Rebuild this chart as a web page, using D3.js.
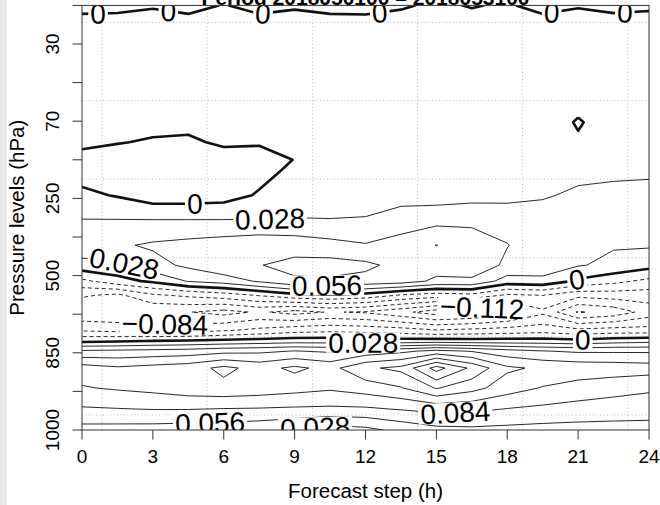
<!DOCTYPE html>
<html>
<head>
<meta charset="utf-8">
<script src="https://cdn.jsdelivr.net/npm/d3@7"></script>
<style>
  html, body { margin: 0; padding: 0; background: #ffffff; }
  svg { display: block; font-family: "Liberation Sans", Arial, Helvetica, sans-serif; }
</style>
</head>
<body>
<svg id="chart" width="660" height="505"></svg>
<script>
// Forecast steps (h) of the field columns
const steps = [0, 1.5, 3, 4.5, 6, 7.5, 9, 10.5, 12, 13.5, 15, 16.5, 18, 19.5, 21, 22.5, 24];

// Position of each field row on the level axis (0 = 1000 hPa, 11 = top level)
const rowLevels = [0, 0.544, 1.087, 1.605, 2.045, 2.304, 2.588, 3.054, 3.494, 3.857, 4.271,
                   4.788, 5.435, 6.082, 6.729, 7.0, 7.454, 7.972, 8.930, 9.965, 10.56, 11];

// Field values, one row per entry of rowLevels (bottom to top), one value per step
const field = [
  [0.046, 0.045, 0.044, 0.042, 0.040, 0.036, 0.027, 0.015, 0.020, 0.036, 0.048, 0.050, 0.048, 0.046, 0.045, 0.044, 0.044],
  [0.081, 0.083, 0.085, 0.085, 0.083, 0.082, 0.080, 0.079, 0.080, 0.086, 0.092, 0.090, 0.083, 0.078, 0.074, 0.072, 0.070],
  [0.110, 0.115, 0.120, 0.128, 0.132, 0.128, 0.122, 0.116, 0.125, 0.138, 0.170, 0.150, 0.125, 0.110, 0.100, 0.093, 0.088],
  [0.125, 0.116, 0.122, 0.128, 0.147, 0.130, 0.146, 0.131, 0.163, 0.175, 0.235, 0.190, 0.145, 0.135, 0.130, 0.128, 0.125],
  [0.060, 0.062, 0.065, 0.068, 0.075, 0.078, 0.085, 0.080, 0.095, 0.105, 0.120, 0.110, 0.095, 0.085, 0.080, 0.080, 0.080],
  [-0.006, -0.003, 0.001, 0.004, 0.008, 0.012, 0.016, 0.016, 0.016, 0.012, 0.014, 0.012, 0.012, 0.012, 0.008, 0.016, 0.020],
  [-0.060, -0.065, -0.070, -0.070, -0.060, -0.050, -0.040, -0.036, -0.040, -0.045, -0.055, -0.050, -0.045, -0.040, -0.050, -0.045, -0.045],
  [-0.108, -0.110, -0.110, -0.111, -0.122, -0.108, -0.122, -0.110, -0.115, -0.132, -0.155, -0.145, -0.125, -0.090, -0.143, -0.130, -0.100],
  [-0.080, -0.090, -0.060, -0.050, -0.040, -0.025, -0.008, -0.002, -0.010, -0.030, -0.040, -0.035, -0.060, -0.055, -0.075, -0.070, -0.070],
  [-0.035, -0.010, 0.005, 0.030, 0.040, 0.060, 0.080, 0.080, 0.075, 0.070, 0.050, 0.050, 0.016, 0.020, -0.005, -0.020, -0.035],
  [0.018, 0.020, 0.046, 0.062, 0.080, 0.083, 0.092, 0.095, 0.090, 0.075, 0.070, 0.076, 0.050, 0.045, 0.030, 0.022, 0.010],
  [0.047, 0.052, 0.060, 0.065, 0.070, 0.075, 0.072, 0.065, 0.058, 0.070, 0.0845, 0.070, 0.057, 0.040, 0.033, 0.030, 0.031],
  [0.029, 0.029, 0.029, 0.029, 0.029, 0.029, 0.030, 0.029, 0.030, 0.038, 0.0475, 0.050, 0.045, 0.042, 0.040, 0.042, 0.045],
  [0.006, -0.002, -0.015, -0.015, -0.012, 0.003, 0.010, 0.014, 0.016, 0.020, 0.015, 0.018, 0.020, 0.025, 0.033, 0.038, 0.042],
  [-0.012, -0.018, -0.020, -0.020, -0.018, -0.010, 0.006, 0.010, 0.010, 0.012, 0.012, 0.013, 0.014, 0.015, 0.020, 0.020, 0.020],
  [-0.006, -0.010, -0.012, -0.012, -0.008, -0.008, 0.0005, 0.009, 0.009, 0.010, 0.011, 0.011, 0.012, 0.012, 0.015, 0.014, 0.014],
  [0.004, 0.001, -0.002, -0.003, 0.003, 0.002, 0.006, 0.008, 0.008, 0.009, 0.010, 0.010, 0.010, 0.010, 0.002, 0.009, 0.009],
  [0.008, 0.008, 0.006, 0.005, 0.007, 0.007, 0.008, 0.008, 0.008, 0.009, 0.009, 0.009, 0.009, 0.009, -0.0015, 0.008, 0.008],
  [0.010, 0.011, 0.010, 0.009, 0.010, 0.011, 0.010, 0.009, 0.010, 0.011, 0.010, 0.010, 0.011, 0.010, 0.010, 0.011, 0.010],
  [0.008, 0.008, 0.009, 0.008, 0.007, 0.008, 0.008, 0.009, 0.008, 0.008, 0.007, 0.008, 0.009, 0.008, 0.008, 0.008, 0.007],
  [0.006, 0.005, 0.006, 0.006, 0.005, 0.006, 0.006, 0.005, 0.006, 0.006, 0.006, 0.005, 0.006, 0.006, 0.005, 0.006, 0.006],
  [-0.006, -0.004, -0.0015, -0.006, 0.001, -0.006, -0.002, -0.005, -0.007, -0.002, 0.003, -0.001, 0.002, -0.006, -0.001, -0.005, -0.003]
];

// Contour levels (interval 0.028)
const contourLevels = [-0.168, -0.14, -0.112, -0.084, -0.056, -0.028, 0,
                       0.028, 0.056, 0.084, 0.112, 0.14, 0.168, 0.196, 0.224];

// Pressure levels (hPa) at the level-axis ticks, bottom to top
const pressureTicks = [1000, 925, 850, 700, 500, 400, 250, 100, 70, 50, 30, 10];
const stepTicks = [0, 3, 6, 9, 12, 15, 18, 21, 24];

// Reference grid (dotted)
const gridSteps = [0.85, 5.3, 9.76, 14.2, 18.65, 23.1];
const gridLevels = [0.39, 2.43, 4.46, 6.5, 8.53, 10.56];

// Contour labels: [contour value, step, level] near which the label sits
const contourLabels = [
  [0, 0.68, 10.79], [0, 3.64, 10.79], [0, 7.66, 10.79], [0, 12.61, 10.79],
  [0, 19.89, 10.79], [0, 22.98, 10.79],
  [0, 4.78, 5.82],
  [0.028, 7.96, 5.44],
  [0.028, 1.82, 4.35],
  [0.056, 10.37, 3.75],
  [0, 20.95, 3.9],
  [-0.112, 16.93, 3.13],
  [-0.084, 3.51, 2.67],
  [0.028, 11.9, 2.28],
  [0, 21.2, 2.33],
  [0.084, 15.8, 0.47],
  [0.056, 5.42, 0.23],
  [0.028, 9.86, 0.13]
];

const title = "Period 2018050100 \u2013 2018053100";
const xTitle = "Forecast step (h)";
const yTitle = "Pressure levels (hPa)";

// ---- layout ----
const plot = { left: 82, right: 649, top: 5.4, bottom: 430 };
const x = d3.scaleLinear().domain([0, 24]).range([plot.left, plot.right]);
const y = d3.scaleLinear().domain([0, 11]).range([plot.bottom, plot.top]);

const svg = d3.select("#chart");

svg.append("rect").attr("x", 0).attr("y", 0).attr("width", 7).attr("height", 505).attr("fill", "#ebebeb");

svg.append("clipPath").attr("id", "plotClip")
  .append("rect")
  .attr("x", plot.left).attr("y", plot.top)
  .attr("width", plot.right - plot.left).attr("height", plot.bottom - plot.top);

// title (sits at the very top edge)
svg.append("text")
  .attr("x", (plot.left + plot.right) / 2).attr("y", 4.5)
  .attr("text-anchor", "middle").attr("font-weight", "bold").attr("font-size", 21)
  .attr("fill", "#000").text(title);

const inner = svg.append("g").attr("clip-path", "url(#plotClip)");

// dotted grid
const gridG = inner.append("g").attr("stroke", "#bdbdbd").attr("stroke-width", 1).attr("stroke-dasharray", "1,2.5");
gridSteps.forEach(s => {
  gridG.append("line").attr("x1", x(s)).attr("x2", x(s)).attr("y1", plot.top).attr("y2", plot.bottom);
});
gridLevels.forEach(l => {
  gridG.append("line").attr("x1", plot.left).attr("x2", plot.right).attr("y1", y(l)).attr("y2", y(l));
});

// ---- contours ----
const n = steps.length, m = rowLevels.length;
const values = field.flat();
const cx = d3.scaleLinear().domain(d3.range(n).map(i => i + 0.5)).range(steps);
const cy = d3.scaleLinear().domain(d3.range(m).map(j => j + 0.5)).range(rowLevels);
const contours = d3.contours().size([n, m]).thresholds(contourLevels)(values);

const toPx = p => [x(cx(p[0])), y(cy(p[1]))];
const lineGen = d3.line();

const ringsByValue = new Map();
const contourG = inner.append("g").attr("fill", "none");
contours.forEach(c => {
  const rings = [];
  c.coordinates.forEach(poly => poly.forEach(ring => rings.push(ring.map(toPx))));
  ringsByValue.set(c.value, rings);
  const v = c.value;
  rings.forEach(pts => {
    const path = contourG.append("path")
      .attr("d", lineGen(pts))
      .attr("stroke", "#111")
      .attr("stroke-linejoin", "round");
    if (Math.abs(v) < 1e-9) {
      path.attr("stroke-width", 2.6);
    } else if (v < 0) {
      path.attr("stroke-width", 0.9).attr("stroke-dasharray", "4,3");
    } else {
      path.attr("stroke-width", 0.9);
    }
  });
});

// ---- contour labels ----
const inside = p => p[0] >= plot.left - 0.5 && p[0] <= plot.right + 0.5 && p[1] >= plot.top - 0.5 && p[1] <= plot.bottom + 0.5;
const dist = (a, b) => Math.hypot(a[0] - b[0], a[1] - b[1]);

function findSpot(value, tx, ty) {
  let best = null;
  for (const [v, rings] of ringsByValue) {
    if (Math.abs(v - value) > 1e-9) continue;
    rings.forEach(pts => {
      for (let k = 0; k < pts.length - 1; k++) {
        const a = pts[k], b = pts[k + 1];
        if (!inside(a) || !inside(b)) continue;
        const dx = b[0] - a[0], dy = b[1] - a[1];
        const len2 = dx * dx + dy * dy;
        let t = len2 > 0 ? ((tx - a[0]) * dx + (ty - a[1]) * dy) / len2 : 0;
        t = Math.max(0, Math.min(1, t));
        const q = [a[0] + t * dx, a[1] + t * dy];
        const d = dist(q, [tx, ty]);
        if (!best || d < best.d) best = { d, q, pts, k };
      }
    });
  }
  return best;
}

function angleAt(spot) {
  const { pts, k, q } = spot;
  let back = q, d = 0, i = k;
  while (i >= 0 && d < 18 && inside(pts[i])) { d += dist(back, pts[i]); back = pts[i]; i--; }
  let fwd = q; d = 0; i = k + 1;
  while (i < pts.length && d < 18 && inside(pts[i])) { d += dist(fwd, pts[i]); fwd = pts[i]; i++; }
  let a = Math.atan2(fwd[1] - back[1], fwd[0] - back[0]) * 180 / Math.PI;
  if (a > 90) a -= 180;
  if (a < -90) a += 180;
  return a;
}

const fmt = v => Math.abs(v) < 1e-9 ? "0" : d3.format(".3f")(v).replace("-", "\u2212");
const labelSize = 28;
const labelG = inner.append("g");
contourLabels.forEach(([v, s, l]) => {
  const spot = findSpot(v, x(s), y(l));
  if (!spot) return;
  const ang = angleAt(spot);
  const g = labelG.append("g").attr("transform", `translate(${spot.q[0]},${spot.q[1]}) rotate(${ang})`);
  const bg = g.append("rect").attr("fill", "#ffffff");
  const t = g.append("text")
    .attr("text-anchor", "middle").attr("dy", "0.36em")
    .attr("font-size", labelSize).attr("fill", "#000")
    .text(fmt(v));
  const w = t.node().getComputedTextLength();
  const h = labelSize * 0.72;
  bg.attr("x", -w / 2 - 2).attr("y", -h / 2).attr("width", w + 4).attr("height", h);
});

// ---- axes ----
const axisColor = "#333";
const axG = svg.append("g").attr("stroke", axisColor).attr("stroke-width", 1);
stepTicks.forEach(s => {
  axG.append("line").attr("x1", x(s)).attr("x2", x(s)).attr("y1", plot.bottom).attr("y2", plot.bottom + 9.5);
});
pressureTicks.forEach((p, i) => {
  axG.append("line").attr("x1", plot.left).attr("x2", plot.left - 9.5).attr("y1", y(i)).attr("y2", y(i));
});

svg.append("rect")
  .attr("x", plot.left).attr("y", plot.top)
  .attr("width", plot.right - plot.left).attr("height", plot.bottom - plot.top)
  .attr("fill", "none").attr("stroke", axisColor).attr("stroke-width", 1);

const tickG = svg.append("g").attr("font-size", 19).attr("fill", "#000");
stepTicks.forEach(s => {
  tickG.append("text").attr("x", x(s)).attr("y", 463).attr("text-anchor", "middle").text(s);
});
pressureTicks.forEach((p, i) => {
  if (i % 2 !== 0) return;
  tickG.append("text")
    .attr("transform", `translate(58.5,${y(i)}) rotate(-90)`)
    .attr("text-anchor", "middle").text(p);
});

svg.append("text")
  .attr("x", (plot.left + plot.right) / 2).attr("y", 498)
  .attr("text-anchor", "middle").attr("font-size", 20.5).attr("fill", "#000")
  .text(xTitle);

svg.append("text")
  .attr("transform", `translate(24,${(plot.top + plot.bottom) / 2}) rotate(-90)`)
  .attr("text-anchor", "middle").attr("font-size", 20.5).attr("fill", "#000")
  .text(yTitle);
</script>
</body>
</html>
